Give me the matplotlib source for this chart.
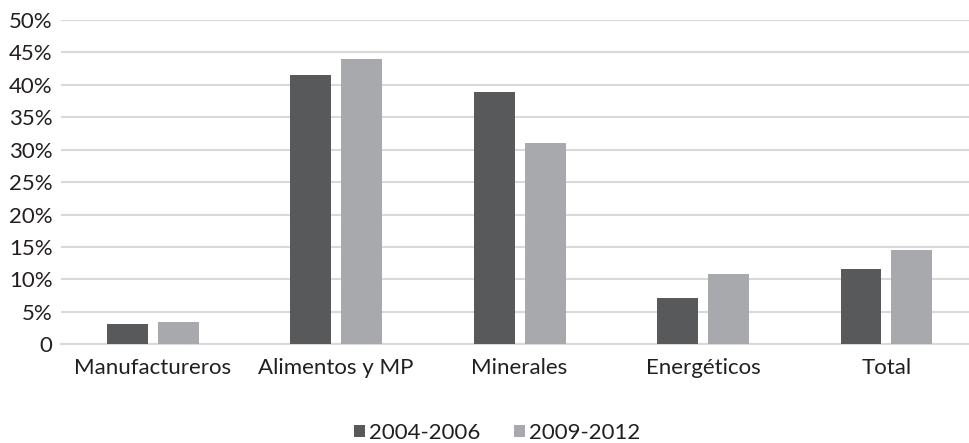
import matplotlib
matplotlib.use("Agg")
import matplotlib.pyplot as plt
import numpy as np

categories = ["Manufactureros", "Alimentos y MP", "Minerales", "Energéticos", "Total"]
serie_2004 = [3.1, 41.5, 38.9, 7.2, 11.6]
serie_2009 = [3.5, 44.0, 31.1, 10.9, 14.5]
series_labels = ["2004-2006", "2009-2012"]
yticks = [0, 5, 10, 15, 20, 25, 30, 35, 40, 45, 50]
ytick_labels = ["0"] + [f"{v}%" for v in yticks[1:]]

plt.rcParams['font.family'] = ['Lato', 'DejaVu Sans']

fig = plt.figure(figsize=(9.69, 4.43), dpi=100)
ax = fig.add_axes([61/969, 1-344.3/443, 1-61/969, (344.3-20)/443])

x = np.arange(len(categories))
w = 0.223
off = 0.139
ax.bar(x-off, serie_2004, width=w, color='#58595b', label=series_labels[0], zorder=3)
ax.bar(x+off, serie_2009, width=w, color='#a7a9ac', label=series_labels[1], zorder=3)

ax.set_xlim(-0.5, 4.45)
ax.set_ylim(0, 50)
ax.set_yticks(yticks)
ax.set_yticklabels(ytick_labels)
ax.set_xticks(x)
ax.set_xticklabels(categories)
ax.yaxis.grid(True, color='#d9d9d9', linewidth=1.5, zorder=0)
for s in ['top', 'right', 'left']:
    ax.spines[s].set_visible(False)
ax.spines['bottom'].set_color('#d9d9d9')
ax.spines['bottom'].set_linewidth(1.5)
ax.tick_params(axis='both', length=0, labelsize=16, colors='#231f20')
ax.tick_params(axis='y', pad=6)
ax.tick_params(axis='x', pad=10)

fig.legend(loc='center', bbox_to_anchor=(0.513, 1-433/443), ncol=2, frameon=False,
           fontsize=16, handlelength=0.5, handleheight=0.5, handletextpad=0.2,
           columnspacing=1.5, labelcolor='#231f20', borderpad=0)

fig.savefig("out.png", dpi=100)
